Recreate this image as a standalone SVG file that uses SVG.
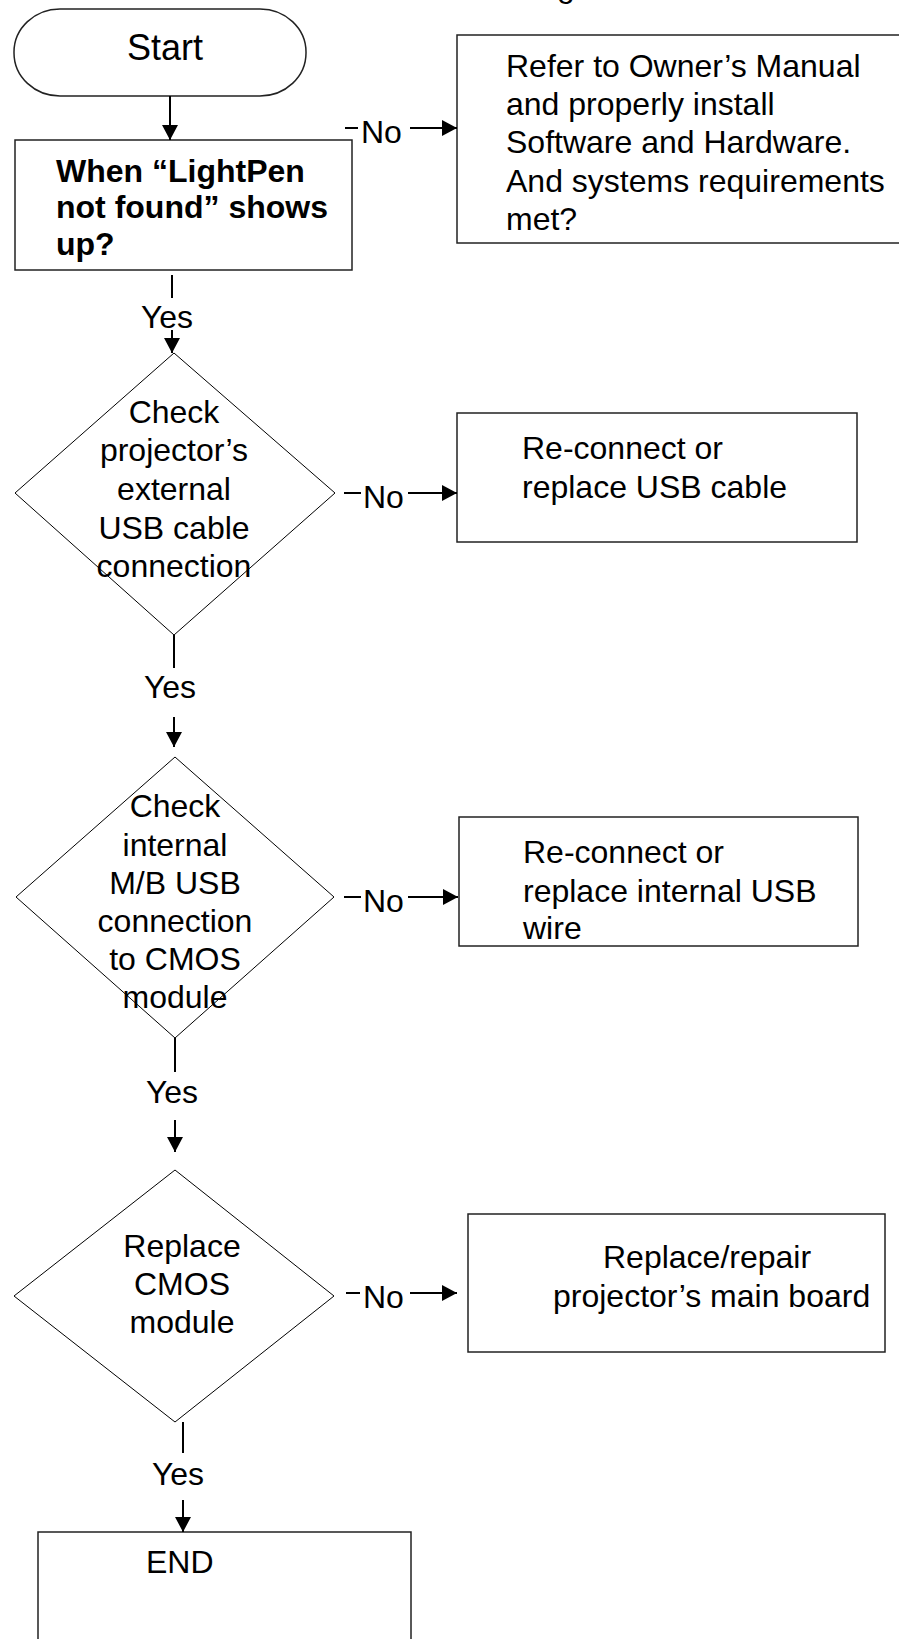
<svg xmlns="http://www.w3.org/2000/svg" width="899" height="1639" viewBox="0 0 899 1639">
<style>
  .t { font-family: "Liberation Sans", Arial, sans-serif; font-size: 32px; fill: #000; }
  .b { font-weight: bold; }
  .c { text-anchor: middle; }
  .box { fill: #fff; stroke: #222; stroke-width: 1.5; }
  .dia { fill: #fff; stroke: #000; stroke-width: 1; }
  .ln { stroke: #000; stroke-width: 2; fill: none; }
</style>
<defs>
  <marker id="ah" markerUnits="userSpaceOnUse" markerWidth="16" markerHeight="16" refX="15" refY="8" orient="auto">
    <path d="M0,0 L15,8 L0,16 Z" fill="#000"/>
  </marker>
</defs>
<rect width="899" height="1639" fill="#fff"/>

<text class="t c" x="566" y="-3">g</text>

<g id="start">
  <rect class="box" x="14" y="9" width="292" height="87" rx="46" ry="43" stroke-width="1"/>
  <text class="t c" x="165" y="60" style="font-size:36px">Start</text>
</g>

<g id="q-lightpen">
  <rect class="box" x="15" y="140" width="337" height="130"/>
  <text class="t b" x="56" y="182">When “LightPen</text>
  <text class="t b" x="56" y="218">not found” shows</text>
  <text class="t b" x="56" y="255">up?</text>
</g>

<g id="refer-manual">
  <rect class="box" x="457" y="35" width="450" height="208"/>
  <text class="t" x="506" y="77">Refer to Owner’s Manual</text>
  <text class="t" x="506" y="115">and properly install</text>
  <text class="t" x="506" y="153">Software and Hardware.</text>
  <text class="t" x="506" y="192">And systems requirements</text>
  <text class="t" x="506" y="230">met?</text>
</g>

<g id="check-external">
  <polygon class="dia" points="174,353 335,493 174,635 15,493"/>
  <text class="t c" x="174" y="423">Check</text>
  <text class="t c" x="174" y="461">projector’s</text>
  <text class="t c" x="174" y="500">external</text>
  <text class="t c" x="174" y="539">USB cable</text>
  <text class="t c" x="174" y="577">connection</text>
</g>

<g id="reconnect-cable">
  <rect class="box" x="457" y="413" width="400" height="129"/>
  <text class="t" x="522" y="459">Re-connect or</text>
  <text class="t" x="522" y="498">replace USB cable</text>
</g>

<g id="check-internal">
  <polygon class="dia" points="175,757 334,897 175,1038 16,897"/>
  <text class="t c" x="175" y="817">Check</text>
  <text class="t c" x="175" y="856">internal</text>
  <text class="t c" x="175" y="894">M/B USB</text>
  <text class="t c" x="175" y="932">connection</text>
  <text class="t c" x="175" y="970">to CMOS</text>
  <text class="t c" x="175" y="1008">module</text>
</g>

<g id="reconnect-wire">
  <rect class="box" x="459" y="817" width="399" height="129"/>
  <text class="t" x="523" y="863">Re-connect or</text>
  <text class="t" x="523" y="902">replace internal USB</text>
  <text class="t" x="523" y="939">wire</text>
</g>

<g id="replace-cmos">
  <polygon class="dia" points="175,1170 334,1296 175,1422 14,1296"/>
  <text class="t c" x="182" y="1257">Replace</text>
  <text class="t c" x="182" y="1295">CMOS</text>
  <text class="t c" x="182" y="1333">module</text>
</g>

<g id="replace-board">
  <rect class="box" x="468" y="1214" width="417" height="138"/>
  <text class="t" x="603" y="1268">Replace/repair</text>
  <text class="t" x="553" y="1307">projector’s main board</text>
</g>

<g id="end">
  <rect class="box" x="38" y="1532" width="373" height="130"/>
  <text class="t" x="146" y="1573">END</text>
</g>

<g id="connectors">
  <line class="ln" x1="170" y1="96" x2="170" y2="140" marker-end="url(#ah)"/>

  <line class="ln" x1="345" y1="128" x2="358" y2="128"/>
  <text class="t" x="361" y="143">No</text>
  <line class="ln" x1="410" y1="128" x2="457" y2="128" marker-end="url(#ah)"/>

  <line class="ln" x1="172" y1="275" x2="172" y2="298"/>
  <text class="t c" x="167" y="328">Yes</text>
  <line class="ln" x1="172" y1="330" x2="172" y2="353" marker-end="url(#ah)"/>

  <line class="ln" x1="344" y1="493" x2="361" y2="493"/>
  <text class="t" x="363" y="508">No</text>
  <line class="ln" x1="408" y1="493" x2="457" y2="493" marker-end="url(#ah)"/>

  <line class="ln" x1="174" y1="635" x2="174" y2="668"/>
  <text class="t c" x="170" y="698">Yes</text>
  <line class="ln" x1="174" y1="717" x2="174" y2="747" marker-end="url(#ah)"/>

  <line class="ln" x1="344" y1="897" x2="361" y2="897"/>
  <text class="t" x="363" y="912">No</text>
  <line class="ln" x1="408" y1="897" x2="458" y2="897" marker-end="url(#ah)"/>

  <line class="ln" x1="175" y1="1038" x2="175" y2="1072"/>
  <text class="t c" x="172" y="1103">Yes</text>
  <line class="ln" x1="175" y1="1120" x2="175" y2="1152" marker-end="url(#ah)"/>

  <line class="ln" x1="346" y1="1293" x2="360" y2="1293"/>
  <text class="t" x="363" y="1308">No</text>
  <line class="ln" x1="410" y1="1293" x2="457" y2="1293" marker-end="url(#ah)"/>

  <line class="ln" x1="183" y1="1422" x2="183" y2="1453"/>
  <text class="t c" x="178" y="1485">Yes</text>
  <line class="ln" x1="183" y1="1500" x2="183" y2="1532" marker-end="url(#ah)"/>
</g>
</svg>
